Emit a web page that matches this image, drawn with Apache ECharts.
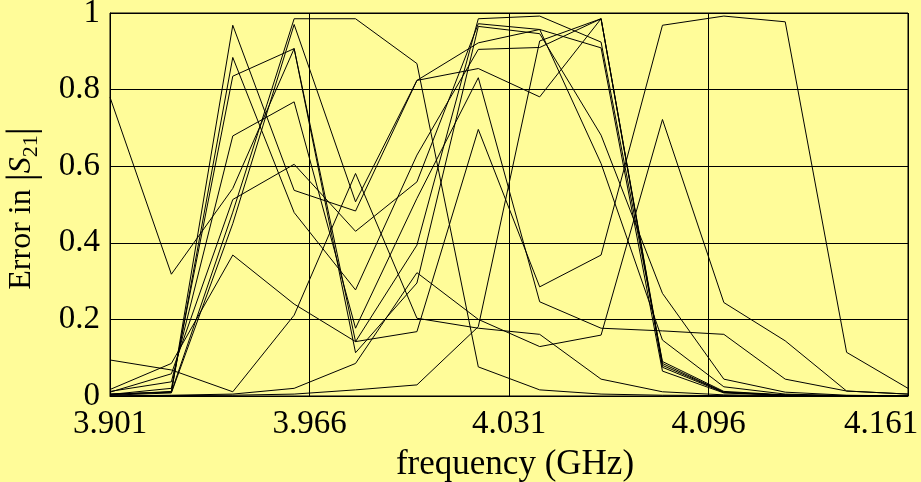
<!DOCTYPE html>
<html>
<head>
<meta charset="utf-8">
<script src="https://cdn.jsdelivr.net/npm/echarts@6/dist/echarts.min.js"></script>
<style>
  html, body { margin: 0; padding: 0; background: #fffc99; }
  #chart { width: 921px; height: 482px; }
</style>
</head>
<body>
<div id="chart"></div>
<script>
// Sampled frequencies (GHz)
const freq = [3.901, 3.921, 3.941, 3.961, 3.981, 4.001, 4.021, 4.041, 4.061, 4.081, 4.101, 4.121, 4.141, 4.161];
const xTicks = [3.901, 3.966, 4.031, 4.096, 4.161];

// Error in |S21| for each test case
const errA = [0.780, 0.318, 0.542, 0.907, 0.142, 0.394, 0.985, 0.992, 0.924, 0.090, 0.012, 0.003, 0.001, 0.000];
const errB = [0.005, 0.010, 0.968, 0.537, 0.483, 0.824, 0.855, 0.781, 0.985, 0.080, 0.010, 0.002, 0.000, 0.000];
const errC = [0.003, 0.012, 0.884, 0.479, 0.277, 0.629, 0.905, 0.910, 0.985, 0.075, 0.009, 0.002, 0.000, 0.000];
const errD = [0.004, 0.020, 0.835, 0.907, 0.113, 0.295, 0.965, 0.946, 0.681, 0.268, 0.044, 0.010, 0.002, 0.000];
const errE = [0.012, 0.037, 0.679, 0.768, 0.177, 0.516, 0.831, 0.246, 0.177, 0.170, 0.161, 0.044, 0.013, 0.005];
const errF = [0.010, 0.058, 0.513, 0.605, 0.430, 0.559, 0.972, 0.957, 0.607, 0.146, 0.024, 0.005, 0.001, 0.000];
const errG = [0.005, 0.010, 0.480, 0.985, 0.985, 0.868, 0.076, 0.016, 0.005, 0.002, 0.001, 0.000, 0.000, 0.000];
const errH = [0.002, 0.008, 0.450, 0.970, 0.507, 0.824, 0.922, 0.957, 0.909, 0.065, 0.008, 0.002, 0.000, 0.000];
const errI = [0.094, 0.068, 0.011, 0.211, 0.581, 0.203, 0.177, 0.161, 0.044, 0.011, 0.003, 0.001, 0.000, 0.000];
const errJ = [0.017, 0.085, 0.368, 0.240, 0.142, 0.168, 0.696, 0.285, 0.368, 0.968, 0.992, 0.977, 0.114, 0.020];
const errK = [0.000, 0.002, 0.005, 0.020, 0.085, 0.322, 0.200, 0.129, 0.159, 0.722, 0.244, 0.144, 0.013, 0.005];
const errU = [0.000, 0.001, 0.002, 0.005, 0.016, 0.029, 0.181, 0.927, 0.985, 0.085, 0.010, 0.002, 0.000, 0.000];

const curves = [errA, errB, errC, errD, errE, errF, errG, errH, errI, errJ, errK, errU];

// x is plotted relative to the first tick so the 0.065 GHz tick step starts on it
const f0 = xTicks[0];
const step = xTicks[1] - xTicks[0];
const span = xTicks[xTicks.length - 1] - f0;

const FONT = '"Liberation Serif", "Times New Roman", serif';

const chart = echarts.init(document.getElementById('chart'), null, { renderer: 'canvas' });

chart.setOption({
  animation: false,
  backgroundColor: '#fffc99',
  grid: {
    left: 110, right: 13, top: 13, bottom: 86,
    outerBoundsMode: 'none',
    containLabel: false,
    show: true, borderColor: '#000', borderWidth: 1, backgroundColor: 'transparent'
  },
  xAxis: {
    type: 'value',
    min: 0, max: span, interval: step,
    name: 'frequency (GHz)',
    nameLocation: 'middle',
    nameGap: 51,
    nameMoveOverlap: false,
    nameTextStyle: { fontFamily: FONT, fontSize: 35, color: '#000', padding: [0, 0, 0, 12] },
    axisLine: { lineStyle: { color: '#000', width: 1 } },
    axisTick: { show: false },
    splitLine: { show: true, lineStyle: { color: '#000', width: 1 } },
    axisLabel: {
      margin: 12, color: '#000', fontFamily: FONT, fontSize: 33,
      alignMaxLabel: 'right',
      // the last label is kept inside the canvas: its box is narrower than the text
      formatter: v => {
        const s = (v + f0).toFixed(3);
        return Math.abs(v - span) < 1e-9 ? '{m|' + s + '}' : s;
      },
      rich: {
        m: { fontFamily: FONT, fontSize: 33, color: '#000', width: 64, align: 'left' }
      }
    }
  },
  yAxis: {
    type: 'value',
    min: 0, max: 1, interval: 0.2,
    name: '{t|Error in }{b||}{s|S}{d|21}{b||}{sp| }',
    nameLocation: 'middle',
    nameGap: 68,
    nameRotate: 90,
    nameMoveOverlap: false,
    nameTextStyle: {
      color: '#000',
      rich: {
        sp: { fontFamily: FONT, fontSize: 31, width: 8 },
        t: { fontFamily: FONT, fontSize: 32, color: '#000' },
        b: { fontFamily: FONT, fontSize: 40, color: '#000' },
        s: { fontFamily: FONT, fontSize: 32, fontStyle: 'italic', color: '#000' },
        d: { fontFamily: FONT, fontSize: 22, color: '#000', verticalAlign: 'bottom', padding: [8, 0, 0, 0] }
      }
    },
    axisLine: { lineStyle: { color: '#000', width: 1 } },
    axisTick: { show: false },
    splitLine: { show: true, lineStyle: { color: '#000', width: 1 } },
    axisLabel: { margin: 10, color: '#000', fontFamily: FONT, fontSize: 33 }
  },
  series: curves.map(c => ({
    type: 'line',
    data: c.map((v, i) => [freq[i] - f0, v]),
    symbol: 'none',
    silent: true,
    clip: true,
    lineStyle: { color: '#000', width: 1 }
  }))
});
</script>
</body>
</html>
